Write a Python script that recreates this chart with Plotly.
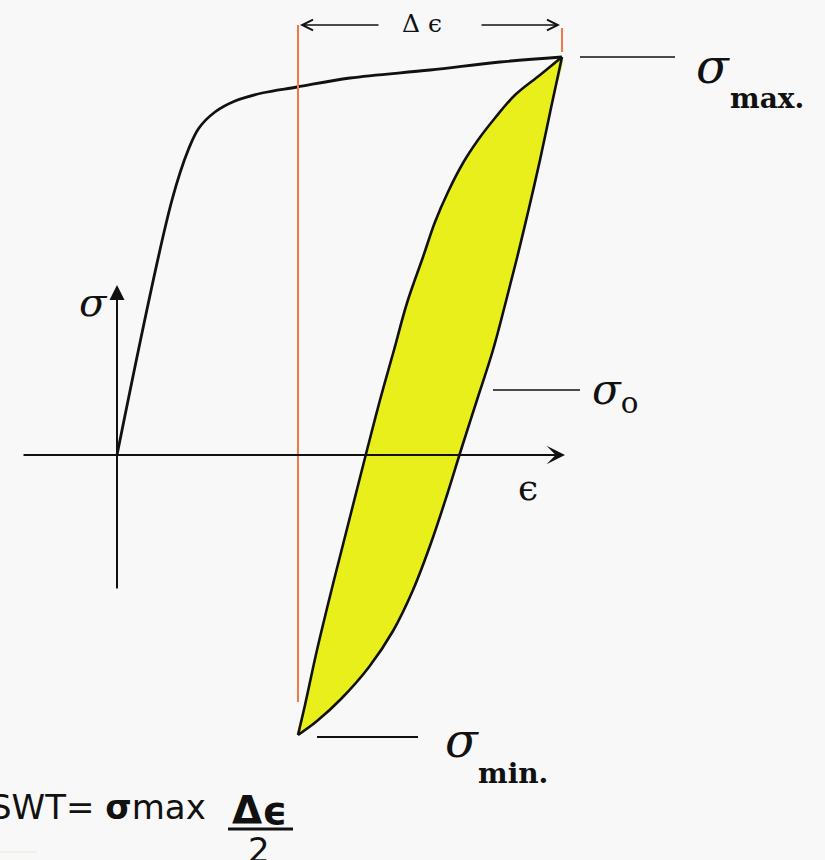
import plotly.graph_objects as go

# ---- stress–strain data (strain in arbitrary units, stress in arbitrary units) ----
# first (monotonic) loading curve
mono_eps = [0.00, 0.55, 0.72, 0.82, 0.98, 1.18, 1.45, 1.80, 2.33, 3.13, 3.83, 4.45]
mono_sig = [0.00, 2.55, 3.07, 3.27, 3.43, 3.54, 3.62, 3.68, 3.77, 3.85, 3.93, 3.98]

# unloading branch of the hysteresis loop: sigma_max -> sigma_min
down_eps = [4.45, 4.23, 3.98, 3.78, 3.61, 3.46, 3.31, 3.18, 3.06, 2.90, 2.77, 2.63, 2.50, 2.34, 2.17, 2.00, 1.88, 1.81]
down_sig = [3.98, 3.80, 3.60, 3.37, 3.15, 2.92, 2.63, 2.33, 1.98, 1.52, 1.05, 0.55, 0.05, -0.58, -1.25, -1.95, -2.50, -2.80]

# reloading branch of the hysteresis loop: sigma_min -> sigma_max
up_eps = [1.81, 2.00, 2.24, 2.52, 2.76, 2.96, 3.14, 3.30, 3.44, 3.60, 3.76, 3.88, 4.00, 4.12, 4.23, 4.34, 4.45]
up_sig = [-2.80, -2.66, -2.44, -2.12, -1.76, -1.35, -0.88, -0.40, 0.05, 0.55, 1.05, 1.50, 1.97, 2.47, 2.95, 3.47, 3.98]

# characteristic values of the loop
eps_min, eps_max = 1.81, 4.45
sig_min, sig_max = -2.80, 3.98
sig_o = 0.65

BLACK = "#111111"
RED = "#f37848"
YELLOW = "#e8ef1a"
SERIF = "DejaVu Serif"
SANS = "DejaVu Sans"

fig = go.Figure()

# filled loop
fig.add_trace(go.Scatter(
    x=up_eps + down_eps[1:], y=up_sig + down_sig[1:],
    mode="lines", fill="toself", fillcolor=YELLOW,
    line=dict(width=0, shape="spline", smoothing=1.0),
    hoverinfo="skip", showlegend=False))

# loop outline
for xs, ys in ((up_eps, up_sig), (down_eps, down_sig)):
    fig.add_trace(go.Scatter(
        x=xs, y=ys, mode="lines",
        line=dict(color=BLACK, width=2.6, shape="spline", smoothing=1.0),
        hoverinfo="skip", showlegend=False))

# monotonic curve
fig.add_trace(go.Scatter(
    x=mono_eps, y=mono_sig, mode="lines",
    line=dict(color=BLACK, width=2.8, shape="spline", smoothing=1.0),
    hoverinfo="skip", showlegend=False))

shapes = [
    # strain-range markers
    dict(type="line", x0=eps_min, x1=eps_min, y0=-2.47, y1=4.30,
         line=dict(color=RED, width=2)),
    dict(type="line", x0=eps_max, x1=eps_max, y0=4.03, y1=4.27,
         line=dict(color=RED, width=2)),
    # leader lines
    dict(type="line", x0=eps_max + 0.18, x1=eps_max + 1.13, y0=sig_max, y1=sig_max,
         line=dict(color=BLACK, width=1.6)),
    dict(type="line", x0=3.76, x1=4.63, y0=sig_o, y1=sig_o,
         line=dict(color=BLACK, width=1.6)),
    dict(type="line", x0=2.00, x1=3.01, y0=sig_min - 0.02, y1=sig_min - 0.02,
         line=dict(color=BLACK, width=1.8)),
    # fraction bar of the formula
    dict(type="line", x0=1.11, x1=1.76, y0=-3.74, y1=-3.74,
         line=dict(color=BLACK, width=3)),
    dict(type="line", x0=-1.17, x1=-0.80, y0=-3.97, y1=-3.97,
         line=dict(color="#ece6da", width=1)),
]

ann = []


def arrow(x, y, ax, ay, head, width, size):
    ann.append(dict(x=x, y=y, ax=ax, ay=ay, xref="x", yref="y", axref="x", ayref="y",
                    text="", showarrow=True, arrowhead=head, arrowwidth=width,
                    arrowsize=size, arrowcolor=BLACK, standoff=0, startstandoff=0))


# coordinate axes
arrow(4.48, 0.0, -0.95, 0.0, 3, 2.2, 1.4)
arrow(0.0, 1.70, 0.0, -1.35, 2, 2.0, 1.5)
# strain range arrows
arrow(eps_min + 0.02, 4.30, 2.63, 4.30, 5, 1.4, 1.5)
arrow(eps_max - 0.02, 4.30, 3.63, 4.30, 5, 1.4, 1.5)


def label(x, y, text, size, family=SERIF, xanchor="center"):
    ann.append(dict(x=x, y=y, xref="x", yref="y", text=text, showarrow=False,
                    xanchor=xanchor, yanchor="middle",
                    font=dict(family=family, size=size, color=BLACK)))


label(3.05, 4.32, "Δ ϵ", 25)
label(5.96, 3.89, "<i>σ</i>", 48)
label(6.50, 3.57, "<b>max.</b>", 28)
label(4.98, 0.63, "<i>σ</i><sub>o</sub>", 42)
label(3.45, -2.85, "<i>σ</i>", 48)
label(3.96, -3.18, "<b>min.</b>", 28)
label(4.11, -0.32, "ϵ", 36)
label(-0.24, 1.53, "<i>σ</i>", 40)

# SWT parameter formula
label(0.91, -3.52, "SWT= <b>σ</b>max", 34, SANS, "right")
label(1.42, -3.55, "<b>Δϵ</b>", 39, SANS)
label(1.42, -3.95, "2", 34, SANS)

fig.update_layout(
    width=825, height=860, autosize=False,
    margin=dict(l=0, r=0, t=0, b=0),
    paper_bgcolor="#f8f8f8", plot_bgcolor="#f8f8f8",
    xaxis=dict(range=[-1.17, 7.08], visible=False, fixedrange=True),
    yaxis=dict(range=[-4.05, 4.55], visible=False, fixedrange=True),
    shapes=shapes, annotations=ann, showlegend=False,
)

fig.write_html("out.html")
